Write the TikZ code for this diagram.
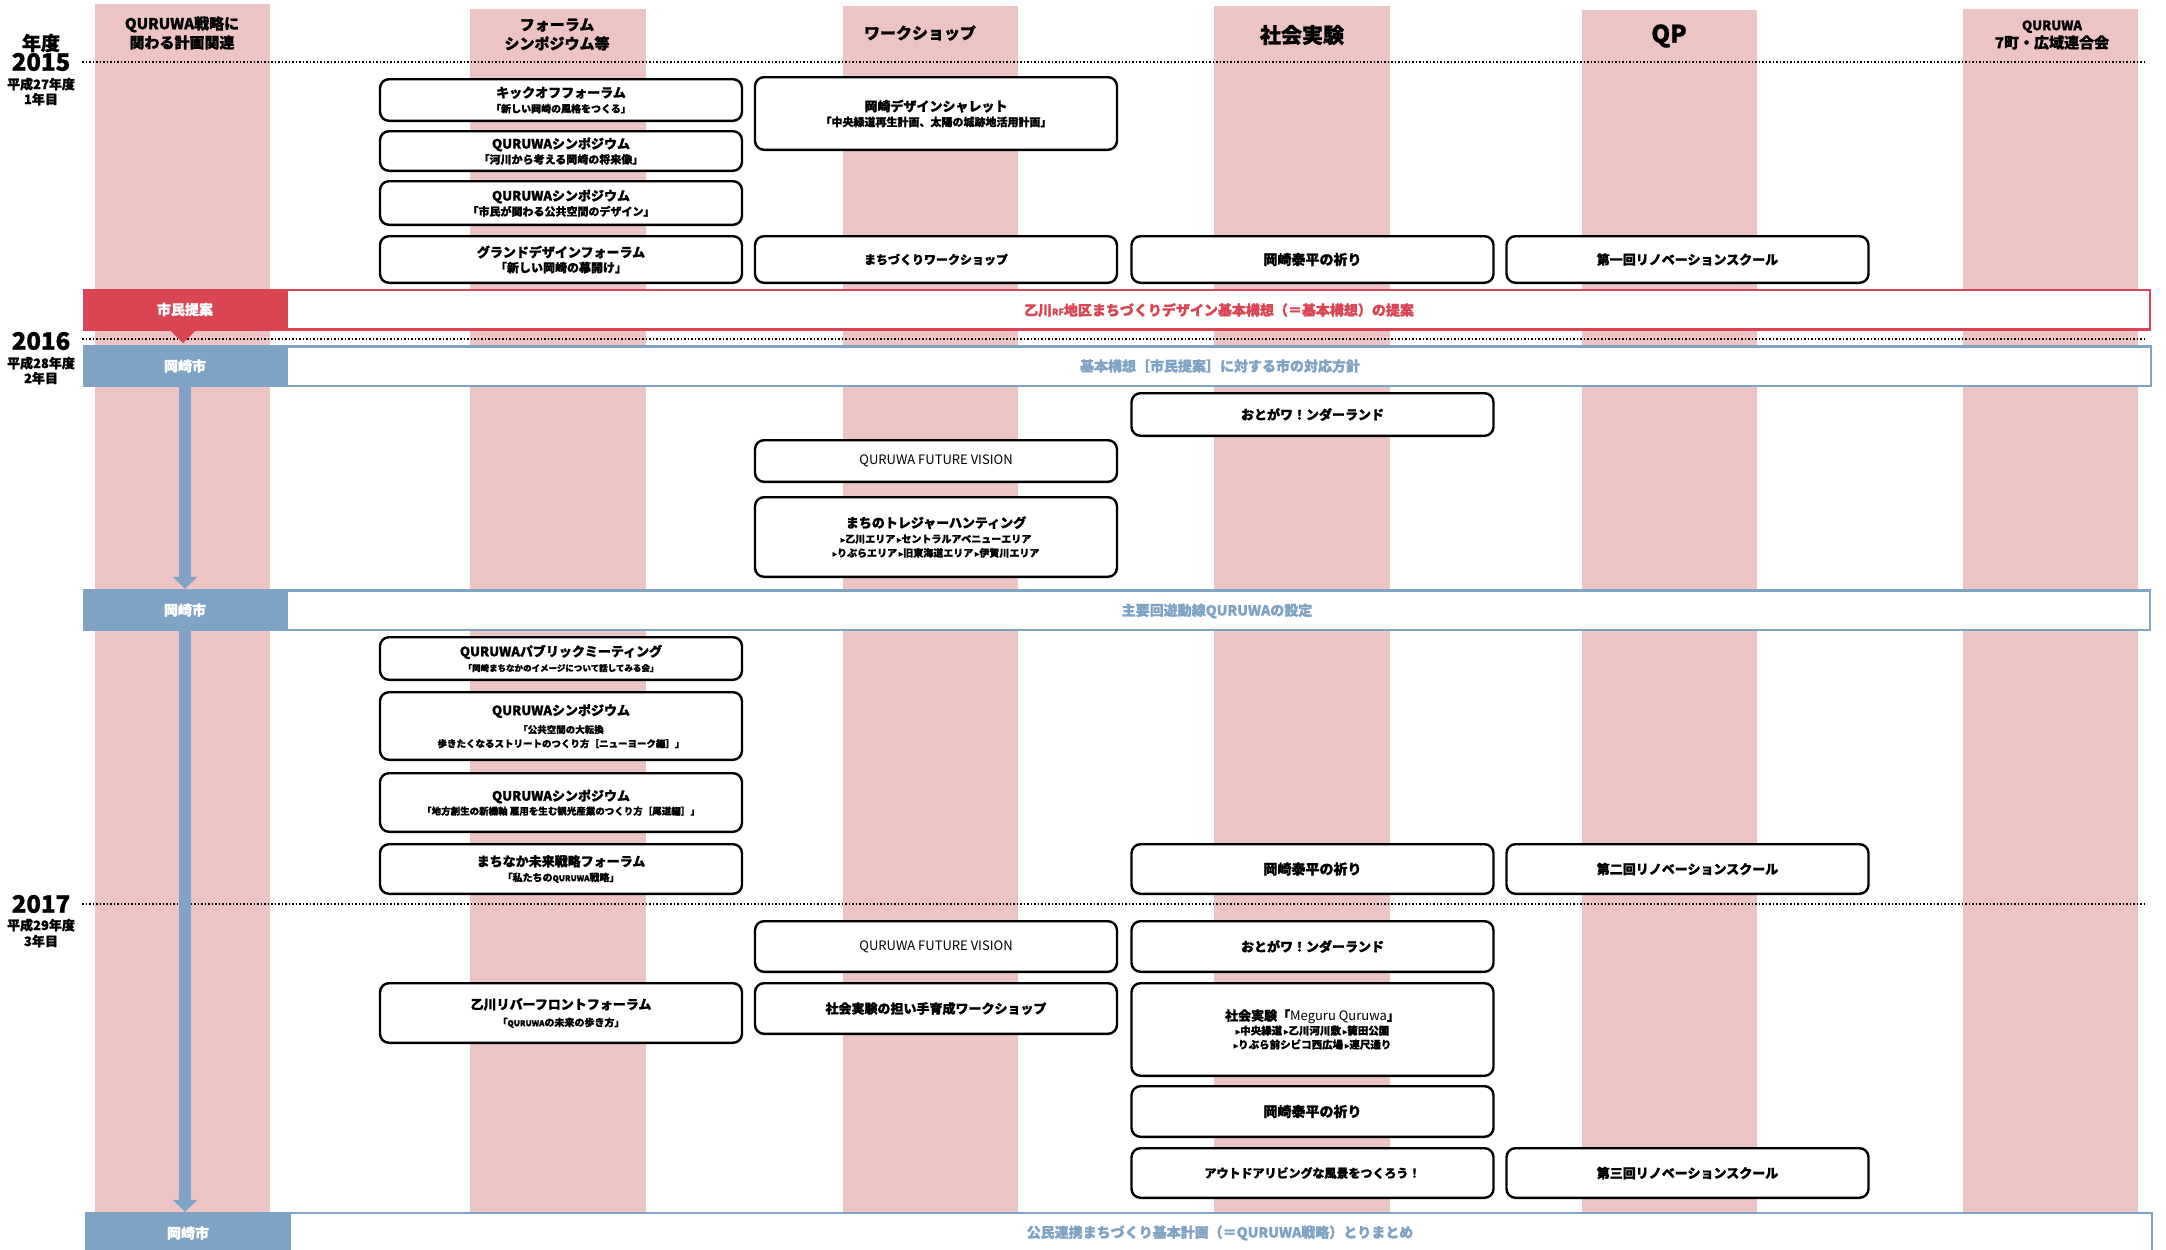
\documentclass[tikz,border=0pt]{standalone}
\usepackage{fontspec}
\setmainfont{Noto Sans CJK JP}[BoldFeatures={FakeBold=1.2}]
\newfontfamily\symf{DejaVu Sans}[FakeBold=1]
\usetikzlibrary{arrows.meta}
\definecolor{pinkc}{HTML}{EDC4C4}
\definecolor{redc}{HTML}{DA4553}
\definecolor{bluec}{HTML}{7FA3C5}
\newcommand\sm[2]{{\fontsize{#1}{#1}\selectfont #2}}
\newcommand\tri{{\symf\fontsize{9}{9}\selectfont ▸}}
\begin{document}
\begin{tikzpicture}[x=1pt,y=-1pt,
 ev/.style={draw=black,line width=2.4pt,rounded corners=9pt,fill=white,align=center,inner sep=0pt,minimum width=362pt,font=\bfseries\fontsize{10}{15}\selectfont},
 hdr/.style={align=center,inner sep=0pt,font=\bfseries\fontsize{15}{19}\selectfont},
 yrlbl/.style={align=center,inner sep=0pt},
 yrline/.style={line width=1.6pt,dash pattern=on 1.5pt off 2pt},
 barout/.style={line width=2.5pt,fill=white,inner sep=0pt,minimum width=2066pt,minimum height=39.5pt},
 barlbl/.style={inner sep=0pt,minimum width=205pt,minimum height=42pt,text=white,font=\bfseries\fontsize{14}{14}\selectfont},
 bartxt/.style={inner sep=0pt,font=\bfseries\fontsize{14}{14}\selectfont},
 flow/.style={line width=12pt,draw=bluec,-{Triangle[width=24pt,length=12pt]}}
]
\useasboundingbox (0,0) rectangle (2166,1250);
\fill[white] (0,0) rectangle (2166,1250);
% pink columns
\fill[pinkc] (95,4) rectangle (270,1212);
\fill[pinkc] (470,9) rectangle (646,1212);
\fill[pinkc] (843,6) rectangle (1018,1212);
\fill[pinkc] (1214,6) rectangle (1390,1212);
\fill[pinkc] (1582,10) rectangle (1757,1212);
\fill[pinkc] (1963,9) rectangle (2138,1212);
% headers
\node[hdr] (h1) at (182,33) {QURUWA戦略に\\関わる計画関連};
\node[hdr] (h2) at (557,34.5) {フォーラム\\シンポジウム等};
\node[hdr,font=\bfseries\fontsize{16}{16}\selectfont] (h3) at (920,33) {ワークショップ};
\node[hdr,font=\bfseries\fontsize{21}{21}\selectfont] (h4) at (1302,35) {社会実験};
\node[hdr,font=\bfseries\fontsize{24}{24}\selectfont] (h5) at (1669,36) {QP};
\node[hdr,font=\bfseries\fontsize{15}{18}\selectfont] (h6) at (2052,35) {\sm{13}{QURUWA}\\7町・広域連合会};
% year lines
\coordinate (l15a) at (82,62); \coordinate (l15b) at (2145,62);
\coordinate (l16a) at (82,339); \coordinate (l16b) at (2145,339);
\coordinate (l17a) at (82,904); \coordinate (l17b) at (2145,904);
\draw[yrline] (l15a) -- (l15b);
\draw[yrline] (l16a) -- (l16b);
\draw[yrline] (l17a) -- (l17b);
% year labels
\node[yrlbl,font=\bfseries\fontsize{19}{19}\selectfont] (nendo) at (41,43) {年度};
\node[yrlbl,font=\bfseries\fontsize{24}{24}\selectfont] (y15) at (41,62) {2015};
\node[yrlbl,font=\bfseries\fontsize{13}{15}\selectfont] (y15s) at (41,91.5) {平成27年度\\1年目};
\node[yrlbl,font=\bfseries\fontsize{24}{24}\selectfont] (y16) at (41,341) {2016};
\node[yrlbl,font=\bfseries\fontsize{13}{15}\selectfont] (y16s) at (41,370.5) {平成28年度\\2年目};
\node[yrlbl,font=\bfseries\fontsize{24}{24}\selectfont] (y17) at (41,904) {2017};
\node[yrlbl,font=\bfseries\fontsize{13}{16}\selectfont] (y17s) at (41,933) {平成29年度\\3年目};
% red bar
\node[barout,draw=redc] (rbar) at (1117,309.5) {};
\node[barlbl,fill=redc] (shimin) at (185,309.5) {市民提案};
\fill[redc] (170,330) -- (196,330) -- (183,343) -- cycle;
\node[bartxt,text=redc] (rtxt) at (1219,310) {乙川\sm{9}{RF}地区まちづくりデザイン基本構想（＝基本構想）の提案};
% blue bar 1
\node[barout,draw=bluec] (bbar1) at (1118,366) {};
\node[barlbl,fill=bluec] (ok1) at (185,366) {岡崎市};
\node[bartxt,text=bluec] (btxt1) at (1220,366) {基本構想［市民提案］に対する市の対応方針};
% blue bar 2
\node[barout,draw=bluec] (bbar2) at (1117,610) {};
\node[barlbl,fill=bluec] (ok2) at (185,610) {岡崎市};
\node[bartxt,text=bluec] (btxt2) at (1217,611) {主要回遊動線QURUWAの設定};
% blue bar 3
\node[barout,draw=bluec,minimum height=50pt] (bbar3) at (1119,1238) {};
\node[barlbl,fill=bluec,minimum height=50pt] (ok3) at (188,1237) {};
\node[barlbl] (ok3t) at (188,1233) {岡崎市};
\node[bartxt,text=bluec] (btxt3) at (1220,1233) {公民連携まちづくり基本計画（＝QURUWA戦略）とりまとめ};
% flow arrows
\draw[flow] (ok1.south) -- (ok2.north);
\draw[flow] (ok2.south) -- (ok2.south |- ok3.north);
% 2015 events
\node[ev,minimum height=41.6pt] (kick) at (561,100) {\sm{13}{キックオフフォーラム}\\\sm{10}{「新しい岡崎の風格をつくる」}};
\node[ev,minimum height=39.6pt] (sym1) at (561,151) {\sm{13}{QURUWAシンポジウム}\\\sm{11}{「河川から考える岡崎の将来像」}};
\node[ev,minimum height=43.6pt] (sym2) at (561,203) {\sm{13}{QURUWAシンポジウム}\\\sm{11}{「市民が関わる公共空間のデザイン」}};
\node[ev,minimum height=46.6pt] (grand) at (561,259.5) {\sm{13}{グランドデザインフォーラム}\\\sm{12}{「新しい岡崎の幕開け」}};
\node[ev,minimum height=72.6pt] (charette) at (936,113.5) {\sm{13}{岡崎デザインシャレット}\\\sm{11}{「中央緑道再生計画、太陽の城跡地活用計画」}};
\node[ev,minimum height=46.6pt] (machiws) at (936,259.5) {\sm{12}{まちづくりワークショップ}};
\node[ev,minimum height=46.6pt] (taihei1) at (1312.5,259.5) {\sm{14}{岡崎泰平の祈り}};
\node[ev,minimum height=46.6pt] (reno1) at (1687.5,259.5) {\sm{13}{第一回リノベーションスクール}};
% 2016 events
\node[ev,minimum height=42.6pt] (otogawa1) at (1312.5,414.5) {\sm{13}{おとがワ！ンダーランド}};
\node[ev,minimum height=41.6pt] (fv1) at (936,461) {\mdseries\sm{13}{QURUWA FUTURE VISION}};
\node[ev,minimum height=79.6pt] (treasure) at (936,537) {\sm{13}{まちのトレジャーハンティング}\\\sm{10}{\tri 乙川エリア\,\tri セントラルアベニューエリア}\\[-1pt]\sm{10}{\tri りぶらエリア\,\tri 旧東海道エリア\,\tri 伊賀川エリア}};
\node[ev,minimum height=42.6pt] (pubmeet) at (561,658.5) {\sm{13}{QURUWAパブリックミーティング}\\\sm{8.5}{「岡崎まちなかのイメージについて話してみる会」}};
\node[ev,minimum height=67.6pt] (sym3) at (561,726) {\sm{13}{QURUWAシンポジウム}\\[3pt]\sm{9.5}{「公共空間の大転換}\\[-1pt]\sm{9.5}{歩きたくなるストリートのつくり方［ニューヨーク編］」}};
\node[ev,minimum height=58.6pt] (sym4) at (561,802.5) {\sm{13}{QURUWAシンポジウム}\\[-1pt]\sm{9.5}{「地方創生の新機軸 雇用を生む観光産業のつくり方［尾道編］」}};
\node[ev,minimum height=49.6pt] (mirai) at (561,869) {\sm{13}{まちなか未来戦略フォーラム}\\\sm{10}{「私たちの\sm{8}{QURUWA}戦略」}};
\node[ev,minimum height=49.6pt] (taihei2) at (1312.5,869) {\sm{14}{岡崎泰平の祈り}};
\node[ev,minimum height=49.6pt] (reno2) at (1687.5,869) {\sm{13}{第二回リノベーションスクール}};
% 2017 events
\node[ev,minimum height=50.6pt] (fv2) at (936,946.5) {\mdseries\sm{13}{QURUWA FUTURE VISION}};
\node[ev,minimum height=50.6pt] (otogawa2) at (1312.5,946.5) {\sm{13}{おとがワ！ンダーランド}};
\node[ev,minimum height=59.6pt] (river) at (561,1013) {\sm{13}{乙川リバーフロントフォーラム}\\[2pt]\sm{10}{「\sm{8}{QURUWA}の未来の歩き方」}};
\node[ev,minimum height=50.6pt] (ninaite) at (936,1008.5) {\sm{13}{社会実験の担い手育成ワークショップ}};
\node[ev,minimum height=92.6pt] (meguru) at (1312.5,1029.5) {\sm{13}{社会実験「{\mdseries Meguru Quruwa}」}\\[-1pt]\sm{10.5}{\tri 中央緑道\,\tri 乙川河川敷\,\tri 籠田公園}\\[-1pt]\sm{10.5}{\tri りぶら前シビコ西広場\,\tri 連尺通り}};
\node[ev,minimum height=50.6pt] (taihei3) at (1312.5,1111.5) {\sm{14}{岡崎泰平の祈り}};
\node[ev,minimum height=49.6pt] (outdoor) at (1312.5,1173) {\sm{12}{アウトドアリビングな風景をつくろう！}};
\node[ev,minimum height=49.6pt] (reno3) at (1687.5,1173) {\sm{13}{第三回リノベーションスクール}};
\end{tikzpicture}
\end{document}
